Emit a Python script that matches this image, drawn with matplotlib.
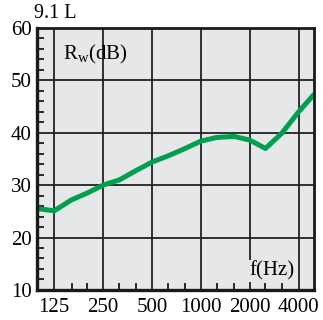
import numpy as np
import matplotlib.pyplot as plt
from matplotlib.ticker import FixedLocator, NullFormatter

plt.rcParams["font.family"] = ["Liberation Serif", "DejaVu Serif"]
plt.rcParams["mathtext.fontset"] = "custom"
plt.rcParams["mathtext.rm"] = "Liberation Serif"

# third-octave band centres and sound reduction index
freqs = [100, 125, 160, 200, 250, 315, 400, 500, 630, 800,
         1000, 1250, 1600, 2000, 2500, 3150, 4000, 5000]
rw_db = [25.5, 25.1, 27.2, 28.5, 30.0, 31.0, 32.8, 34.4, 35.6, 37.0,
         38.4, 39.1, 39.3, 38.6, 37.0, 39.9, 44.0, 47.4]

x_ticks = [125, 250, 500, 1000, 2000, 4000]
x_minor = [160, 200, 315, 400, 630, 800, 1250, 1600, 2500, 3150]
y_ticks = [10, 20, 30, 40, 50, 60]
y_minor = [v for v in range(12, 60, 2) if v % 10]

BG = "#e6e7e9"
GREEN = "#00a050"

fig = plt.figure(figsize=(3.23, 3.20), dpi=100)
ax = fig.add_axes([0.1146, 0.094, 0.856, 0.8185])
ax.set_facecolor(BG)

ax.plot(freqs, rw_db, color=GREEN, lw=3.6, solid_joinstyle="round",
        solid_capstyle="butt", zorder=3)

ax.set_xscale("log", base=2)
ax.set_xlim(98, 4940)
ax.set_ylim(10, 60)

ax.xaxis.set_major_locator(FixedLocator(x_ticks))
ax.xaxis.set_minor_locator(FixedLocator(x_minor))
ax.set_xticklabels([str(v) for v in x_ticks])
ax.xaxis.set_minor_formatter(NullFormatter())
ax.yaxis.set_major_locator(FixedLocator(y_ticks))
ax.yaxis.set_minor_locator(FixedLocator(y_minor))
ax.set_yticklabels([str(v) for v in y_ticks])

ax.grid(True, which="major", color="#222222", lw=1.3, zorder=1)
ax.tick_params(which="both", direction="in", labelsize=15, color="#1a1a1a")
ax.tick_params(which="major", length=0, pad=4)
ax.tick_params(which="minor", length=5, width=1.3)
ax.tick_params(axis="x", which="major", pad=6)

for side, s in ax.spines.items():
    s.set_color("#1a1a1a")
    s.set_linewidth(2.4 if side in ("left", "bottom") else 2.0)
    s.set_zorder(4)

fig.text(0.106, 0.943, "9.1 L", fontsize=14.5, ha="left", va="baseline")
ax.text(0.095, 0.88, r"R$_\mathregular{w}$(dB)", transform=ax.transAxes,
        fontsize=15, ha="left", va="baseline", zorder=5)
ax.text(0.93, 0.055, "f(Hz)", transform=ax.transAxes, fontsize=15,
        ha="right", va="baseline", zorder=5,
        bbox=dict(facecolor=BG, edgecolor="none", pad=1.0))

fig.savefig("out.png", dpi=100)
